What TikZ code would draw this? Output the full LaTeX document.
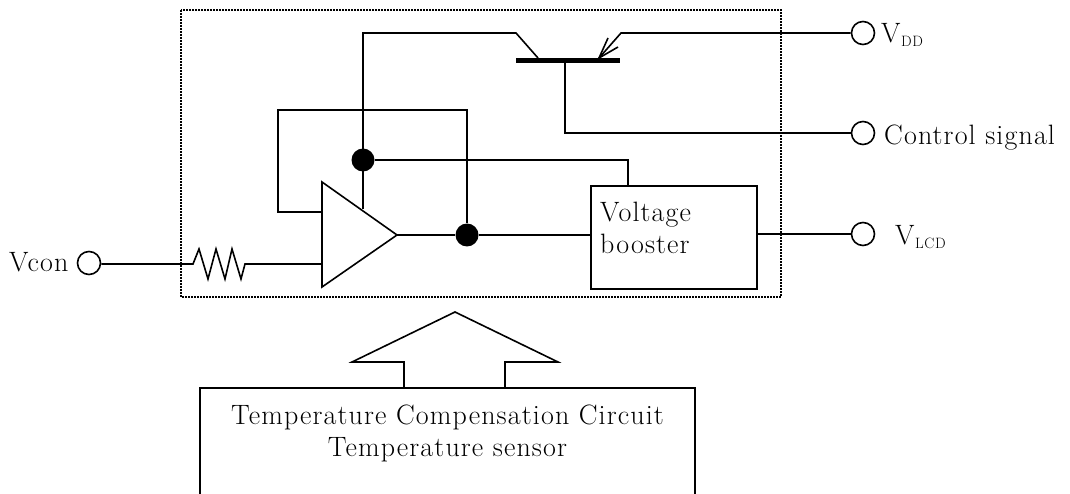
\documentclass[tikz,border=0pt]{standalone}
\usepackage{fontspec}
\setmainfont{Latin Modern Roman}[LetterSpace=4]
\tikzset{
  wire/.style={line width=1.6pt,line join=miter},
  term/.style={circle,draw,line width=1.6pt,minimum size=23pt,inner sep=0pt},
  junction/.style={circle,fill=black,minimum size=23pt,inner sep=0pt},
  lbl/.style={inner sep=0pt,font=\fontsize{28}{32}\selectfont},
  sub/.style={inner sep=0pt,font=\fontsize{15}{17}\selectfont},
  boxed/.style={draw,line width=1.6pt,inner sep=0pt},
}
\begin{document}
\begin{tikzpicture}[x=1pt,y=-1pt]
\useasboundingbox (0,0) rectangle (1070,494);
\draw[line width=1.6pt,dash pattern=on 1.6pt off 1.4pt] (181,10) rectangle (781,297);

% terminals
\node[term] (vcon) at (89,263) {};
\node[term] (vdd) at (863,33) {};
\node[term] (ctrl) at (863,133) {};
\node[term] (vlcd) at (863,234) {};
\node[lbl,anchor=base west] (tvcon) at (9,272) {Vcon};
\node[lbl,anchor=base west] (tvdd) at (881,43) {V};
\node[sub,anchor=base west] (tdd) at (901,47) {DD};
\node[lbl,anchor=base west] (tctrl) at (884,145) {Control signal};
\node[lbl,anchor=base west] (tvl) at (895,244) {V};
\node[sub,anchor=base west] (tlcd) at (915,248) {LCD};

% booster
\node[boxed,minimum width=166pt,minimum height=103pt] (boost) at (674,237.5) {};
\node[lbl,anchor=base west] (tb1) at (600,222) {Voltage};
\node[lbl,anchor=base west] (tb2) at (600,254) {booster};

% op amp
\coordinate (ampa) at (322,182);
\coordinate (ampb) at (322,287);
\coordinate (ampo) at (397,235);
\draw[wire] (ampa) -- (ampo) -- (ampb) -- cycle;

% junctions
\node[junction] (j1) at (467,235) {};
\node[junction] (j2) at (363,160) {};

% transistor
\coordinate (barl) at (516,60.5);
\coordinate (barr) at (620,60.5);
\draw[line width=5pt] (barl) -- (barr);
\coordinate (coll) at (538,58);
\coordinate (emit) at (599,58);
\coordinate (base) at (565,60);
\coordinate (c1) at (363,33);
\coordinate (c2) at (516,33);
\coordinate (e1) at (621,33);
\coordinate (ampt) at (363,209);
\draw[wire] (ampt) -- (c1) -- (c2) -- (coll);
\draw[wire] (vdd) -- (e1) -- (emit);
\coordinate (a1) at (608,38);
\coordinate (a2) at (618,47);
\draw[wire] (a1) -- (emit) -- (a2);
\draw[wire] (base) |- (ctrl);

% wires
\draw[wire] (j2) -| (boost.north -| 628,186);
\draw[wire] (ampo) -- (j1) -- (boost.west |- j1);
\draw[wire] (boost.east |- vlcd) -- (vlcd);
\coordinate (fbin) at (322,212);
\draw[wire] (fbin) -- (278,212) -- (278,110) -- (467,110) -- (j1);

% resistor
\coordinate (rin) at (193,264);
\coordinate (rout) at (245,264);
\draw[wire] (vcon.east |- rin) -- (rin) -- (199,249) -- (208,279) -- (216,249) -- (225,279) -- (232,249) -- (241,279) -- (rout) -- (322,264);

% arrow
\draw[wire] (404,388) -- (404,362) -- (352,362) -- (455,312) -- (558,362) -- (505,362) -- (505,388);

% sensor box, cut by the page edge
\draw[wire] (200,494) -- (200,388) -- (695,388) -- (695,494);
\node[lbl,anchor=base] (t1) at (447.5,424) {Temperature Compensation Circuit};
\node[lbl,anchor=base] (t2) at (447.5,456) {Temperature sensor};
\end{tikzpicture}
\end{document}
